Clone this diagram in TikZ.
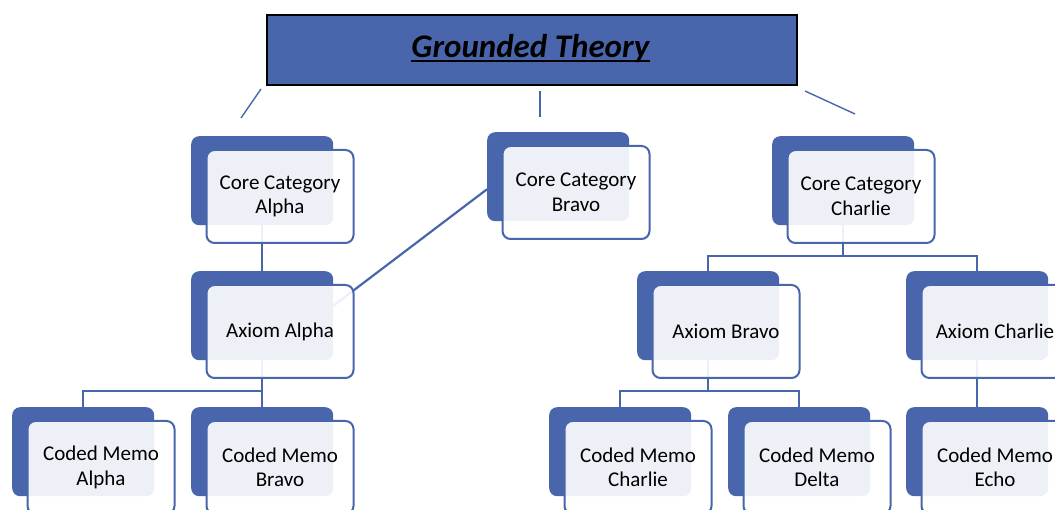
\documentclass[tikz,border=0pt]{standalone}
\usepackage{fontspec}
\setmainfont{Carlito}
\usetikzlibrary{calc}
\definecolor{accent}{RGB}{73,102,172}
\pgfdeclarelayer{paper}
\pgfdeclarelayer{cardback}
\pgfdeclarelayer{links}
\pgfsetlayers{paper,cardback,links,main}
% one card: a solid back plate and a translucent front plate, offset down-right
\newcommand\card[4]{%
  \begin{pgfonlayer}{cardback}
    \node[backcard] (#1-b) at (#2,#3) {};
  \end{pgfonlayer}
  \node[frontcard] (#1) at ($(#2,#3)+(14.5,13)$) {#4};
}
\begin{document}
\begin{tikzpicture}[x=1pt,y=-1pt,
  backcard/.style={draw=none, fill=accent, rounded corners=8pt,
    minimum width=142pt, minimum height=89pt, anchor=north west, inner sep=0pt},
  frontcard/.style={draw=accent, line width=2pt, fill=white, fill opacity=0.9,
    text opacity=1, rounded corners=8pt, minimum width=147pt, minimum height=93pt,
    align=center, font=\fontsize{21}{24.5}\selectfont, anchor=north west, inner sep=0pt},
  titlebox/.style={draw=black, line width=2pt, fill=accent, minimum width=530pt,
    minimum height=70pt, anchor=north west, inner sep=0pt},
  link/.style={draw=accent, line width=2.2pt},
  thinlink/.style={draw=accent, line width=1.4pt}]

\useasboundingbox (0,0) rectangle (1055,510);
\begin{pgfonlayer}{paper}
  \fill[white] (0,0) rectangle (1055,510);
\end{pgfonlayer}
\clip (0,0) rectangle (1055,510);

% title banner
\node[titlebox] (title) at (266,14) {};
\node[anchor=base, inner sep=0pt, font=\fontsize{33}{40}\selectfont\bfseries\itshape]
  (ttl) at (530.5,58) {Grounded Theory};
\draw[line width=2.6pt] ([yshift=-3.2pt]ttl.base west) -- ([yshift=-3.2pt]ttl.base east);

% short strokes under the banner
\coordinate (s1a) at (261,89);  \coordinate (s1b) at (241,118);
\coordinate (s2a) at (540,91);  \coordinate (s2b) at (540,117);
\coordinate (s3a) at (805,91);  \coordinate (s3b) at (855,114);
\draw[thinlink] (s1a) -- (s1b);
\draw[thinlink] (s2a) -- (s2b);
\draw[thinlink] (s3a) -- (s3b);

% cards
\card{cA}{191}{136}{Core Category\\Alpha}
\card{cB}{487}{132}{Core Category\\Bravo}
\card{cC}{772}{136}{Core Category\\Charlie}
\card{aA}{191}{271}{Axiom Alpha}
\card{aB}{637}{271}{Axiom Bravo}
\card{aC}{906}{271}{Axiom Charlie}
\card{mA}{12}{407}{Coded Memo\\Alpha}
\card{mB}{191}{407}{Coded Memo\\Bravo}
\card{mC}{549}{407}{Coded Memo\\Charlie}
\card{mD}{728}{407}{Coded Memo\\Delta}
\card{mE}{906}{407}{Coded Memo\\Echo}

% connectors
\begin{pgfonlayer}{links}
  \draw[link] (cA-b.south) -- (aA-b.north);
  \draw[link] (cB-b.190) -- (aA-b.8);
  \draw[link] (aA-b.south) -- ([yshift=16pt]aA-b.south |- mB-b.north);
  \draw[link] (mA-b.north) -- ++(0,-16) -| (mB-b.north);
  \draw[link] (cC-b.south) -- ([yshift=15pt]cC-b.south |- aB-b.north);
  \draw[link] (aB-b.north) -- ++(0,-15) -| (aC-b.north);
  \draw[link] (aB-b.south) -- ([yshift=16pt]aB-b.south |- mC-b.north);
  \draw[link] (mC-b.north) -- ++(0,-16) -| (mD-b.north);
  \draw[link] (aC-b.south) -- (mE-b.north);
\end{pgfonlayer}
\end{tikzpicture}
\end{document}
